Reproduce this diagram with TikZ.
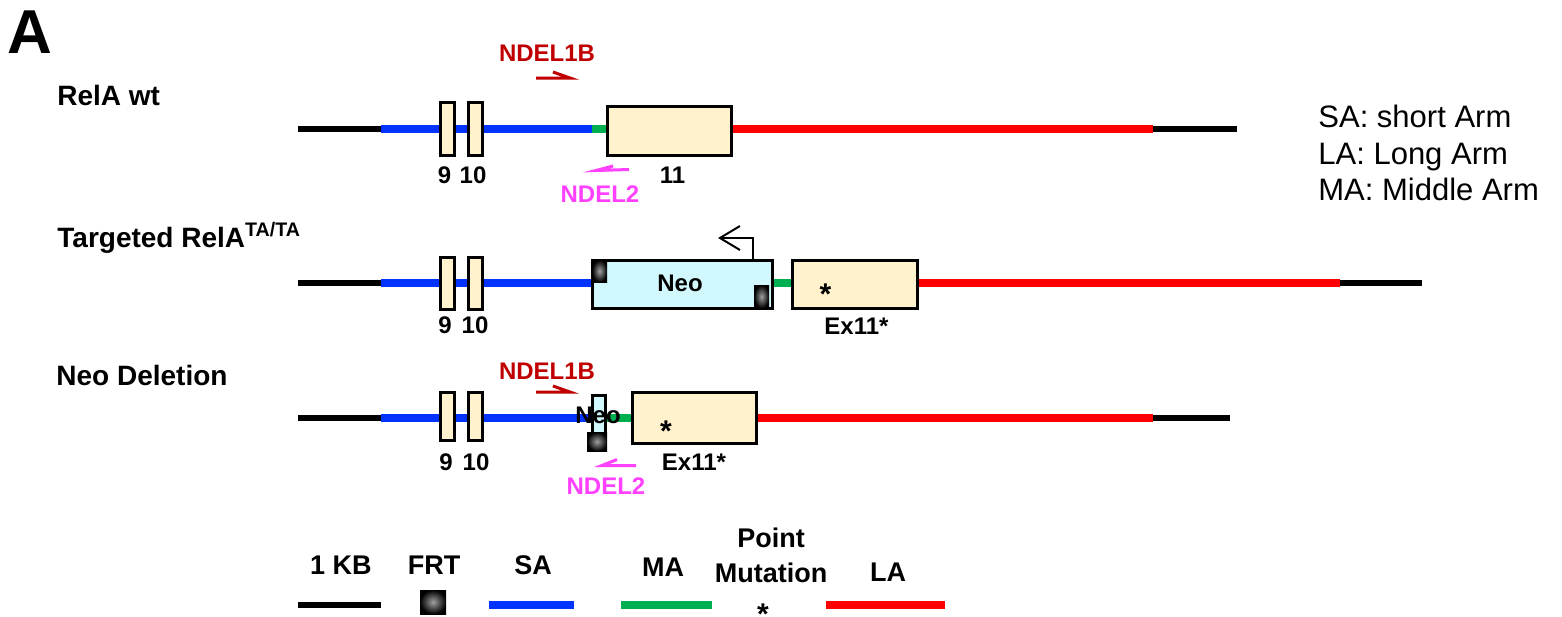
\documentclass[tikz,border=0pt]{standalone}
\usepackage{fontspec}
\setmainfont{Liberation Sans}
\usepackage{tikz}
\usetikzlibrary{arrows.meta}

\definecolor{exonfill}{HTML}{FFF2CC}
\definecolor{neofill}{HTML}{D1F8FC}
\definecolor{sablue}{HTML}{0033FF}
\definecolor{magreen}{HTML}{00B050}
\definecolor{lared}{HTML}{FF0000}
\definecolor{ndelone}{HTML}{C00000}
\definecolor{ndeltwo}{HTML}{FF40FF}

\tikzset{
	kb/.style={line width=3pt, black},
	arm/.style={line width=4pt},
	exon/.style={draw, line width=1.5pt, fill=exonfill},
	neo/.style={draw, line width=1.5pt, fill=neofill},
	frt/.style={inner color=gray!75, outer color=black},
	lbl/.style={font=\bfseries\fontsize{12}{14}\selectfont, inner sep=0pt},
	leg/.style={font=\bfseries\fontsize{13.5}{15}\selectfont, inner sep=0pt},
	rowlbl/.style={font=\bfseries\fontsize{14}{16}\selectfont, inner sep=0pt, anchor=base west},
	abbr/.style={font=\fontsize{15.5}{17}\selectfont, inner sep=0pt, anchor=base west},
	star/.style={font=\bfseries\fontsize{15}{16}\selectfont, inner sep=0pt, anchor=north},
	primer/.style={line width=1.5pt},
}

\begin{document}
\begin{tikzpicture}[x=0.5pt, y=-0.5pt]
	\useasboundingbox (0,0) rectangle (1562,616);

	\node[font=\bfseries\fontsize{31}{34}\selectfont, inner sep=0pt] (panel) at (29.5,32.5) {A};

	% RelA wt
	\node[rowlbl] (wt) at (57,105) {RelA wt};
	\draw[kb] (298,128.5) -- (381,128.5);
	\draw[arm, sablue] (381,128.5) -- (592,128.5);
	\draw[arm, magreen] (592,128.5) -- (608,128.5);
	\draw[arm, lared] (730,128.5) -- (1153,128.5);
	\draw[kb] (1153,128.5) -- (1237,128.5);
	\filldraw[exon] (440,102) rectangle (454,155);
	\filldraw[exon] (468,102) rectangle (482,155);
	\filldraw[exon] (607,106) rectangle (731,155);
	\node[lbl] (wtnine) at (444.5,175.5) {9};
	\node[lbl] (wtten) at (473,175.5) {10};
	\node[lbl] (wteleven) at (672.5,175.5) {11};
	\draw[primer, ndelone] (536,78) -- (570,78) -- (553,72);
	\node[lbl, ndelone] (wtone) at (547,53) {NDEL1B};
	\draw[primer, ndeltwo] (613,166) -- (596,170.5) -- (629,169.5);
	\node[lbl, ndeltwo] (wttwo) at (600,194) {NDEL2};

	% Targeted
	\node[rowlbl] (ta) at (57,247) {Targeted RelA\textsuperscript{TA/TA}};
	\draw[kb] (298,283) -- (381,283);
	\draw[arm, sablue] (381,283) -- (592,283);
	\draw[arm, magreen] (772,283) -- (792,283);
	\draw[arm, lared] (917,283) -- (1340,283);
	\draw[kb] (1340,283) -- (1422,283);
	\filldraw[exon] (440,257) rectangle (454,309);
	\filldraw[exon] (468,257) rectangle (482,309);
	\filldraw[neo] (592,260) rectangle (772,308);
	\shade[frt] (592,260) rectangle (607,282);
	\shade[frt] (754,285) rectangle (769,308);
	\filldraw[exon] (792,260.5) rectangle (917,308);
	\draw[line width=1pt, -{Straight Barb[length=10pt, width=12pt]}] (752.5,260) -- (752.5,238) -- (718,238);
	\node[lbl] (taneo) at (680,283) {Neo};
	\node[star] (tastar) at (825.5,283) {*};
	\node[lbl] (taex) at (856.5,326.5) {Ex11*};
	\node[lbl] (tanine) at (445,325) {9};
	\node[lbl] (taten) at (475,325) {10};

	% Neo Deletion
	\node[rowlbl] (del) at (56,385) {Neo Deletion};
	\draw[kb] (298,417.5) -- (381,417.5);
	\draw[arm, sablue] (381,417.5) -- (592,417.5);
	\draw[arm, magreen] (605,417.5) -- (632,417.5);
	\draw[arm, lared] (756,417.5) -- (1153,417.5);
	\draw[kb] (1153,417.5) -- (1230,417.5);
	\filldraw[exon] (440,392) rectangle (454,440);
	\filldraw[exon] (468,392) rectangle (482,440);
	\filldraw[neo] (592,395) rectangle (605,440);
	\shade[frt] (587,432) rectangle (607,451);
	\filldraw[exon] (632,392) rectangle (756,443);
	\node[lbl] (delneo) at (598,415) {Neo};
	\node[star] (delstar) at (666,420) {*};
	\node[lbl] (delex) at (694,462) {Ex11*};
	\node[lbl] (delnine) at (446,462.5) {9};
	\node[lbl] (delten) at (476,462.5) {10};
	\draw[primer, ndelone] (536,392) -- (570,392) -- (553,386);
	\node[lbl, ndelone] (delone) at (547,371) {NDEL1B};
	\draw[primer, ndeltwo] (617,459.5) -- (602,465.5) -- (636,465.5);
	\node[lbl, ndeltwo] (deltwo) at (606,486) {NDEL2};

	% abbreviations
	\node[abbr] (absa) at (1318,127) {SA: short Arm};
	\node[abbr] (abla) at (1318,164) {LA: Long Arm};
	\node[abbr] (abma) at (1318,200) {MA: Middle Arm};

	% legend
	\node[leg] (lgkb) at (341,565) {1 KB};
	\node[leg] (lgfrt) at (434,565) {FRT};
	\node[leg] (lgsa) at (533,565) {SA};
	\node[leg] (lgma) at (663,567) {MA};
	\node[leg] (lgpoint) at (771,538) {Point};
	\node[leg] (lgmut) at (771,573) {Mutation};
	\node[leg] (lgla) at (888,572) {LA};
	\draw[kb] (298,605) -- (381,605);
	\shade[frt] (420,590) rectangle (446,614);
	\draw[arm, sablue] (489,605) -- (574,605);
	\draw[arm, magreen] (621,605) -- (712,605);
	\node[font=\bfseries\fontsize{15}{16}\selectfont, inner sep=0pt, anchor=base] (lgstar) at (763,609.5) {\raisebox{-0.5em}[0pt][0pt]{*}};
	\draw[arm, lared] (826,605) -- (945,605);
\end{tikzpicture}
\end{document}
